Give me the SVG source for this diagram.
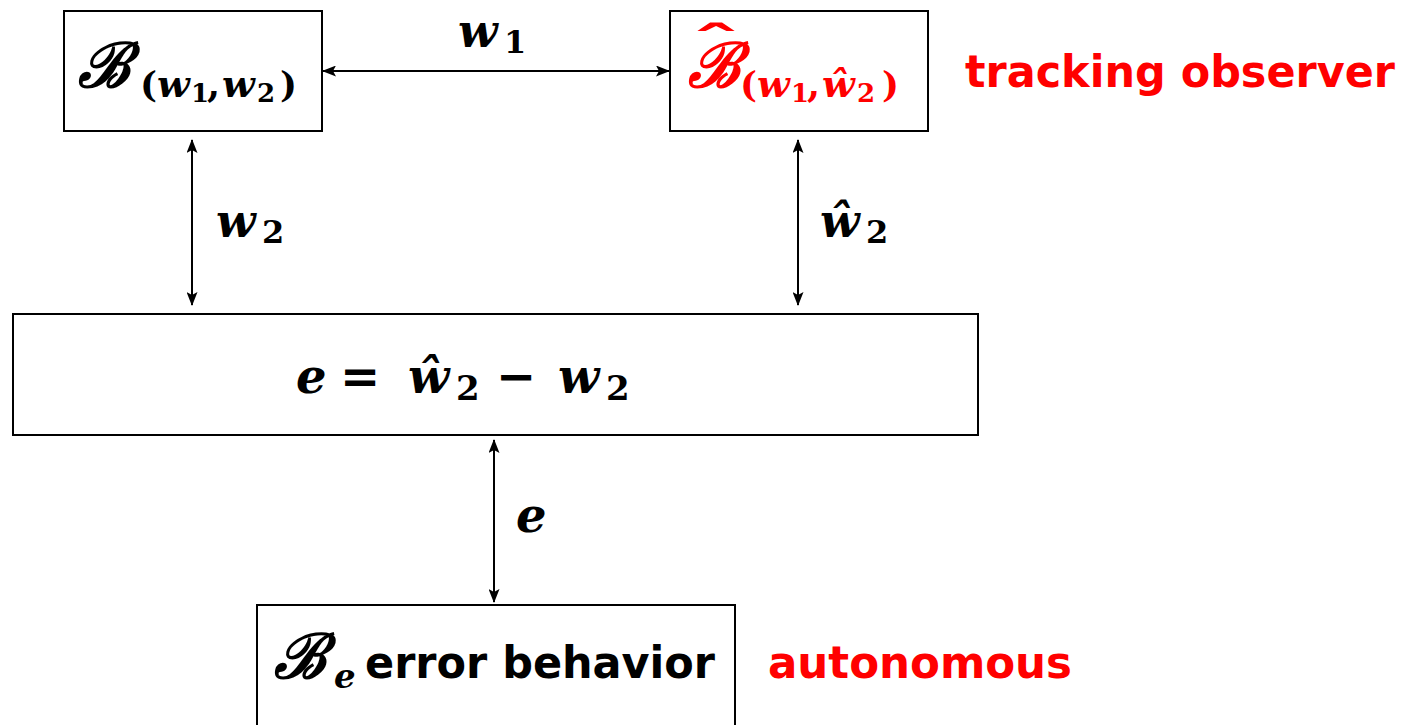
<svg xmlns="http://www.w3.org/2000/svg" width="1404" height="725" viewBox="0 0 1404 725">
<defs>
<marker id="ah" viewBox="0 0 14 11" refX="13" refY="5.5" markerWidth="14" markerHeight="11" markerUnits="userSpaceOnUse" orient="auto-start-reverse">
<path d="M0,0 L14,5.5 L0,11 L3,5.5 Z" fill="#000"/>
</marker>
</defs>
<style>
.box{fill:#fff;stroke:#000;stroke-width:2}
.m{font-family:"DejaVu Serif","Liberation Serif",serif;font-style:italic;font-weight:bold}
.cal{font-family:"DejaVu Serif","Liberation Serif",serif;font-style:italic;font-weight:bold}
.up{font-family:"DejaVu Serif","Liberation Serif",serif;font-weight:bold;font-style:normal}
.s{font-family:"DejaVu Sans","Liberation Sans",sans-serif;font-weight:bold}
.red{fill:#ff0000}
.con{stroke:#000;stroke-width:2;fill:none;marker-start:url(#ah);marker-end:url(#ah)}
</style>
<g id="connectors">
<line class="con" x1="323" y1="71" x2="669" y2="71"/>
<line class="con" x1="192" y1="140" x2="192" y2="305"/>
<line class="con" x1="798" y1="140" x2="798" y2="305"/>
<line class="con" x1="494" y1="440" x2="494" y2="602"/>
</g>
<g id="label-w1"><text class="m" x="458" y="47" font-size="46">w</text><text class="up" x="504" y="53" font-size="32">1</text></g>
<g id="label-w2"><text class="m" x="216" y="237" font-size="46">w</text><text class="up" x="262" y="243" font-size="32">2</text></g>
<g id="label-w2hat"><text class="m" x="820" y="237" font-size="46">ŵ</text><text class="up" x="866" y="243" font-size="32">2</text></g>
<g id="label-e"><text class="m" x="516" y="532" font-size="48">e</text></g>
<g id="node-B">
<rect class="box" x="64" y="11" width="258" height="120"/>
<text class="cal" x="78" y="87" font-size="62">ℬ</text>
<text class="up" x="140" y="97" font-size="36">(</text>
<text class="m" x="157" y="97" font-size="38">w</text>
<text class="up" x="191" y="102" font-size="26">1</text>
<text class="up" x="207" y="97" font-size="38">,</text>
<text class="m" x="222" y="97" font-size="38">w</text>
<text class="up" x="257" y="102" font-size="26">2</text>
<text class="up" x="280" y="97" font-size="36">)</text>
</g>
<g id="node-Bhat">
<rect class="box" x="670" y="11" width="258" height="120"/>
<text class="cal red" x="688" y="87" font-size="62">ℬ</text>
<text class="up red" transform="translate(716,60) scale(2.2,1)" text-anchor="middle" font-size="46">ˆ</text>
<text class="up red" x="740" y="97" font-size="36">(</text>
<text class="m red" x="757" y="97" font-size="38">w</text>
<text class="up red" x="791" y="102" font-size="26">1</text>
<text class="up red" x="807" y="97" font-size="38">,</text>
<text class="m red" x="822" y="97" font-size="38">ŵ</text>
<text class="up red" x="857" y="102" font-size="26">2</text>
<text class="up red" x="882" y="97" font-size="36">)</text>
</g>
<g id="label-tracking"><text class="s red" x="965" y="87" font-size="44" textLength="430" lengthAdjust="spacingAndGlyphs">tracking observer</text></g>
<g id="node-e">
<rect class="box" x="13" y="314" width="965" height="121"/>
<text class="m" x="296" y="393" font-size="48">e</text>
<text class="up" x="340" y="393" font-size="48">=</text>
<text class="m" x="408" y="393" font-size="48">ŵ</text>
<text class="up" x="456" y="400" font-size="34">2</text>
<text class="up" x="496" y="393" font-size="48">−</text>
<text class="m" x="558" y="393" font-size="48">w</text>
<text class="up" x="606" y="400" font-size="34">2</text>
</g>
<g id="node-Be">
<rect class="box" x="257" y="605" width="478" height="130"/>
<text class="cal" x="274" y="678" font-size="62">ℬ</text>
<text class="m" x="334" y="688" font-size="34">e</text>
<text class="s" x="365" y="678" font-size="44" textLength="350" lengthAdjust="spacingAndGlyphs">error behavior</text>
</g>
<g id="label-autonomous"><text class="s red" x="768" y="678" font-size="44" textLength="304" lengthAdjust="spacingAndGlyphs">autonomous</text></g>
</svg>
